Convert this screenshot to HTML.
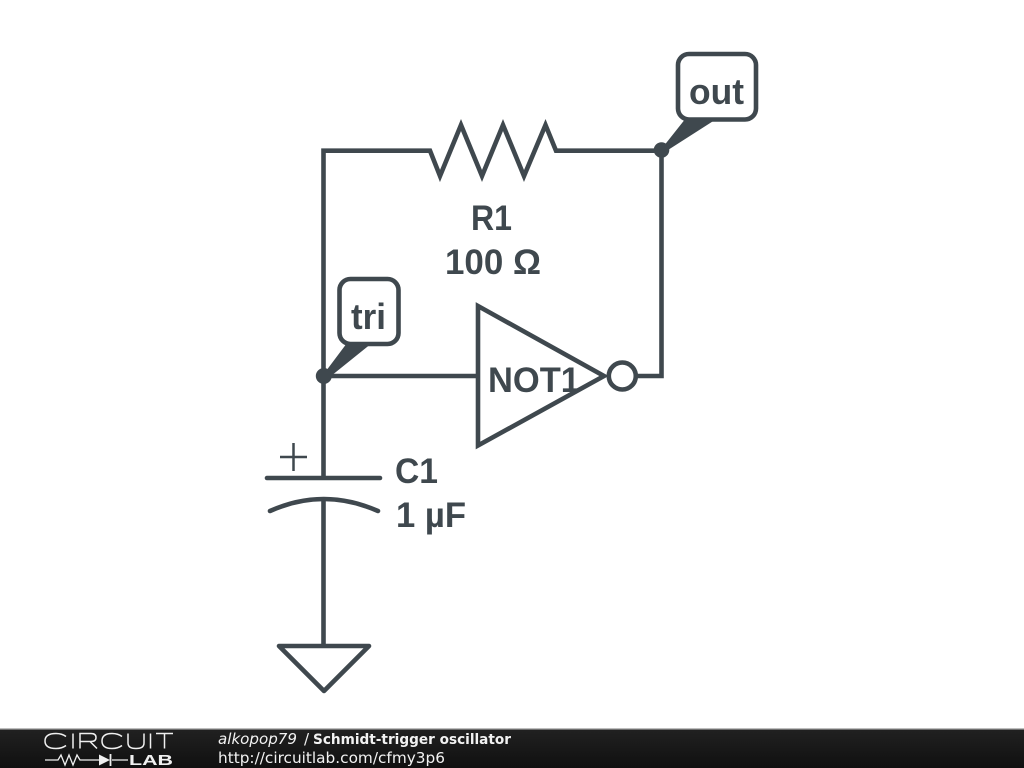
<!DOCTYPE html>
<html><head><meta charset="utf-8"><style>
html,body{margin:0;padding:0;background:#fff;width:1024px;height:768px;overflow:hidden}
svg{display:block}
</style></head><body>
<svg width="1024" height="768" viewBox="0 0 1024 768" xmlns="http://www.w3.org/2000/svg">
<defs><linearGradient id="bar" x1="0" y1="0" x2="0" y2="1"><stop offset="0" stop-color="#212121"/><stop offset="1" stop-color="#101010"/></linearGradient></defs>
<rect width="1024" height="768" fill="#fff"/>
<g fill="none" stroke="#3f484e" stroke-width="4.600" stroke-linecap="butt" stroke-linejoin="miter">
<path d="M323.500 376V150.700H430L440 176L461 125L482 176L503 125L524 176L545.500 125L556 150.700H661.500V376H636"/>
<path d="M323.500 376H477"/>
<path d="M478 306V445.500L604 376Z"/>
<circle cx="622.300" cy="376" r="13.500"/>
<path d="M323.500 376V478M323.500 500V646"/>
<path d="M267 478H380" stroke-linecap="round"/>
<path d="M270 511Q323.500 487 378 511" stroke-linecap="round"/>
<path d="M280 457H307M293.500 443V471" stroke-width="2.500"/>
<path d="M279 646H369L324 691Z" stroke-linejoin="round"/>
<rect x="678" y="54" width="78" height="65.500" rx="11"/>
<rect x="339.500" y="279" width="59" height="65" rx="11"/>
</g>
<g fill="#3f484e">
<circle cx="661.500" cy="150" r="7.800"/>
<circle cx="323.800" cy="376" r="8"/>
<path d="M660 150L663 147L686 118H718L668 150L662 155Z"/>
<path d="M322 376L326 371L347 343H372L331 376L325 381Z"/>
</g>
<g font-family="'Liberation Sans',sans-serif" font-weight="700" font-size="35" fill="#3f484e">
<text x="471" y="230" textLength="41" lengthAdjust="spacingAndGlyphs">R1</text>
<text x="445" y="274" textLength="96" lengthAdjust="spacingAndGlyphs">100 Ω</text>
<text x="488" y="392" textLength="92" lengthAdjust="spacingAndGlyphs">NOT1</text>
<text x="395" y="483" textLength="43" lengthAdjust="spacingAndGlyphs">C1</text>
<text x="396" y="527" textLength="70" lengthAdjust="spacingAndGlyphs">1 µF</text>
<text x="689" y="104" font-size="36" textLength="55" lengthAdjust="spacingAndGlyphs">out</text>
<text x="351" y="329" font-size="36" textLength="35" lengthAdjust="spacingAndGlyphs">tri</text>
</g>
<rect x="0" y="729" width="1024" height="39" fill="url(#bar)"/>
<rect x="0" y="728" width="1024" height="1.500" fill="#bdbdbd"/>
<g fill="none" stroke="#f0f0f0">
<g stroke-width="1.500">
<path d="M66 736.500Q62 733.500 56 733.500Q45 733.500 45 741Q45 748.500 56 748.500Q62 748.500 66 745.500"/>
<path d="M73 733.500V748.500"/>
<path d="M80 748.500V733.500H91Q96 733.500 96 737.500Q96 741.500 91 741.500H80M90 741.500L97 748.500"/>
<path d="M122 736.500Q118 733.500 112 733.500Q102 733.500 102 741Q102 748.500 112 748.500Q118 748.500 122 745.500"/>
<path d="M128 733.500V743Q128 748.500 136 748.500Q144 748.500 144 743V733.500"/>
<path d="M150.500 733.500V748.500"/>
<path d="M156 733.500H173M164.500 733.500V748.500"/>
</g>
<path d="M45 760H58L61 755L65 765L69 755L73 765L77 755L80 760H100M112 760H128" stroke-width="1.300"/>
<path d="M110.500 754V766" stroke-width="1.800"/>
</g>
<path d="M99 754.500L110 760L99 765.500Z" fill="#f0f0f0"/>
<text x="129" y="765" font-family="'Liberation Sans',sans-serif" font-weight="700" font-size="15" fill="#f0f0f0" textLength="44" lengthAdjust="spacingAndGlyphs">LAB</text>
<g font-family="'DejaVu Sans',sans-serif" font-size="15" fill="#f2f2f2">
<text x="218" y="744" font-style="italic" textLength="79" lengthAdjust="spacingAndGlyphs">alkopop79</text>
<text x="304" y="744">/</text>
<text x="313" y="744" font-weight="700" font-size="14" textLength="198" lengthAdjust="spacingAndGlyphs">Schmidt-trigger oscillator</text>
<text x="218" y="763" textLength="227" lengthAdjust="spacingAndGlyphs">http://circuitlab.com/cfmy3p6</text>
</g>
</svg>
</body></html>
